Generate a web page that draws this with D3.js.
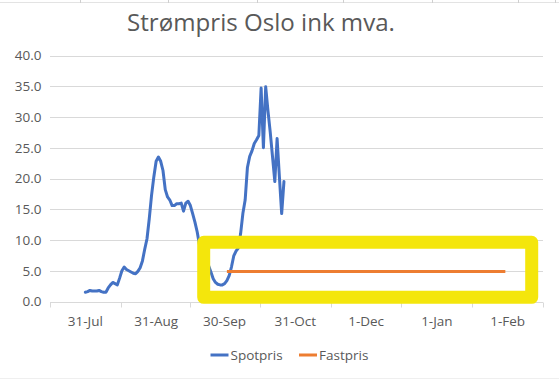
<!DOCTYPE html>
<html>
<head>
<meta charset="utf-8">
<script src="https://cdn.jsdelivr.net/npm/d3@7"></script>
<style>
  html, body { margin: 0; padding: 0; background: #fff; }
  svg { display: block; font-family: "Open Sans", sans-serif; }
</style>
</head>
<body>
<svg id="chart" width="559" height="379"></svg>
<script>
// ---- data ----
const title = "Strømpris Oslo ink mva.";
const spotStart = "2021-07-31";
const spotValues = [
  1.5, 1.6, 1.8, 1.7, 1.7, 1.7, 1.8, 1.6, 1.5, 1.5,
  2.2, 2.7, 3.1, 2.9, 2.7, 3.8, 5.0, 5.6, 5.2, 5.0,
  4.8, 4.6, 4.5, 4.9, 5.5, 6.6, 8.5, 10.2, 13.5, 17.3,
  20.3, 22.8, 23.5, 22.8, 21.3, 18.2, 17.0, 16.5, 15.6, 15.6,
  15.9, 15.9, 16.0, 14.7, 16.0, 16.3, 15.6, 14.3, 12.9, 11.3,
  9.2, 8.4, 7.8, 7.0, 5.8, 4.8, 3.7, 3.1, 2.8, 2.7,
  2.7, 2.9, 3.4, 4.2, 5.6, 7.4, 8.2, 8.7, 11.0, 14.3,
  16.5, 21.8, 23.6, 24.5, 25.7, 26.3, 27.0, 34.7, 25.0, 34.9,
  31.0, 27.5, 23.5, 19.5, 26.5, 20.3, 14.3, 19.5
];
const fastDates = ["2021-10-01", "2022-01-31"];
const fastValues = [4.87, 4.87];
const xTickLabels = ["2021-07-31", "2021-08-31", "2021-09-30", "2021-10-31", "2021-12-01", "2022-01-01", "2022-02-01"];
const yTicks = [0, 5, 10, 15, 20, 25, 30, 35, 40];
const seriesNames = ["Spotpris", "Fastpris"];
const seriesColors = ["#4472C4", "#ED7D31"];

// ---- setup ----
const parse = d3.timeParse("%Y-%m-%d");
const fmt = d3.timeFormat("%-d-%b");
const DAY = 864e5;
const svg = d3.select("#chart");
svg.append("rect").attr("width", 559).attr("height", 379).attr("fill", "#fff");

// spreadsheet strip at top
svg.append("line").attr("x1", 0).attr("x2", 559).attr("y1", 2.5).attr("y2", 2.5)
  .attr("stroke", "#e3e3e3").attr("stroke-width", 1);
[80, 168, 257, 343, 432, 518, 555].forEach(x => {
  svg.append("line").attr("x1", x + 0.5).attr("x2", x + 0.5).attr("y1", 0).attr("y2", 3)
    .attr("stroke", "#cfcfcf");
});
svg.append("line").attr("x1", 0).attr("x2", 559).attr("y1", 378.5).attr("y2", 378.5)
  .attr("stroke", "#efefef");

const labelDates = xTickLabels.map(parse);
const first = labelDates[0], last = labelDates[labelDates.length - 1];
const x = d3.scaleTime()
  .domain([new Date(+first - 15.5 * DAY), new Date(+last + 15.5 * DAY)])
  .range([50, 543]);
const y = d3.scaleLinear().domain([0, 40]).range([301.5, 55.5]);

// gridlines
svg.append("g").selectAll("line").data(yTicks.filter(d => d > 0)).join("line")
  .attr("x1", 50).attr("x2", 543)
  .attr("y1", d => Math.round(y(d)) + 0.5).attr("y2", d => Math.round(y(d)) + 0.5)
  .attr("stroke", "#d9d9d9").attr("stroke-width", 1);

// y labels
svg.append("g").selectAll("text").data(yTicks).join("text")
  .attr("x", 41.5).attr("y", d => y(d)).attr("dy", "0.36em")
  .attr("text-anchor", "end").attr("font-size", 13.5).attr("fill", "#595959")
  .text(d => d.toFixed(1));

// x axis line + ticks at boundaries
const boundaries = [x.domain()[0]];
for (let i = 0; i < labelDates.length - 1; i++) {
  boundaries.push(new Date((+labelDates[i] + +labelDates[i + 1]) / 2));
}
boundaries.push(x.domain()[1]);
const axisY = Math.round(y(0)) + 0.5;
svg.append("line").attr("x1", 50).attr("x2", 543).attr("y1", axisY).attr("y2", axisY)
  .attr("stroke", "#d9d9d9");
svg.append("g").selectAll("line").data(boundaries).join("line")
  .attr("x1", d => Math.round(x(d)) + 0.5).attr("x2", d => Math.round(x(d)) + 0.5)
  .attr("y1", axisY).attr("y2", axisY + 5)
  .attr("stroke", "#d9d9d9");
svg.append("g").selectAll("text").data(labelDates).join("text")
  .attr("x", d => x(d)).attr("y", 321).attr("dy", "0.36em")
  .attr("text-anchor", "middle").attr("font-size", 13.5).attr("fill", "#595959")
  .text(d => fmt(d));

// series
const s0 = parse(spotStart);
const spot = spotValues.map((v, i) => ({ date: new Date(+s0 + i * DAY), value: v }));
const fast = fastDates.map((d, i) => ({ date: parse(d), value: fastValues[i] }));
const line = d3.line().x(d => x(d.date)).y(d => y(d.value)).curve(d3.curveLinear);

svg.append("path").datum(spot).attr("d", line)
  .attr("fill", "none").attr("stroke", seriesColors[0]).attr("stroke-width", 3)
  .attr("stroke-linejoin", "round").attr("stroke-linecap", "round");
svg.append("path").datum(fast).attr("d", line)
  .attr("fill", "none").attr("stroke", seriesColors[1]).attr("stroke-width", 3)
  .attr("stroke-linecap", "butt");

// yellow highlight box
svg.append("rect")
  .attr("x", 203.7).attr("y", 242.3).attr("width", 328).attr("height", 55)
  .attr("fill", "none").attr("stroke", "#F4E60C").attr("stroke-width", 13)
  .attr("stroke-linejoin", "round");

// title
const t = svg.append("text").attr("x", 261).attr("y", 31)
  .attr("text-anchor", "middle").attr("font-size", 22).attr("fill", "#595959")
  .text(title);
const tw = t.node().getComputedTextLength();
t.attr("font-size", 22 * 268 / tw);

// legend
const legend = svg.append("g");
const legendItems = [
  { name: seriesNames[0], color: seriesColors[0], x0: 210.5, tx: 230.5 },
  { name: seriesNames[1], color: seriesColors[1], x0: 299, tx: 319 }
];
legendItems.forEach(it => {
  legend.append("line").attr("x1", it.x0).attr("x2", it.x0 + 18).attr("y1", 355).attr("y2", 355)
    .attr("stroke", it.color).attr("stroke-width", 3);
  legend.append("text").attr("x", it.tx).attr("y", 355).attr("dy", "0.36em")
    .attr("font-size", 13.5).attr("fill", "#595959").text(it.name);
});
</script>
</body>
</html>
